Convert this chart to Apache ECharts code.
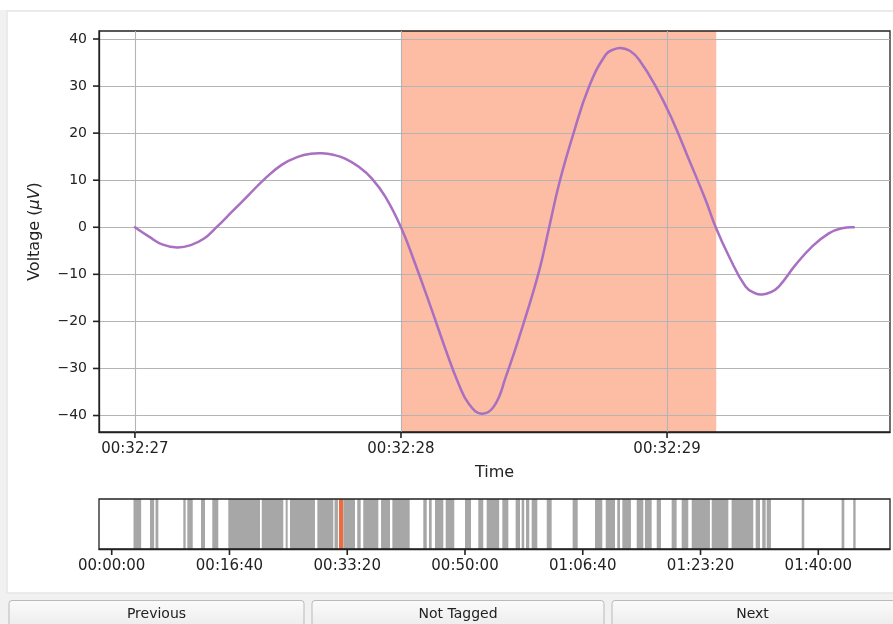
<!DOCTYPE html>
<html>
<head>
<meta charset="utf-8">
<script src="https://cdn.jsdelivr.net/npm/echarts@6/dist/echarts.min.js"></script>
<style>
html,body{margin:0;padding:0;background:#ffffff;}
#c{width:893px;height:624px;}
</style>
</head>
<body>
<div id="c"></div>
<script>
// ---- data: waveform (seconds after 00:32:27, microvolts) ----
const timeSec = [0, 0.053, 0.105, 0.159, 0.210, 0.260, 0.303, 0.365, 0.428, 0.490, 0.553, 0.615, 0.660, 0.703, 0.745, 0.790, 0.840, 0.890, 0.941, 1.0, 1.053, 1.116, 1.166, 1.216, 1.256, 1.303, 1.350, 1.394, 1.457, 1.520, 1.557, 1.595, 1.645, 1.707, 1.770, 1.800, 1.826, 1.860, 1.895, 1.958, 2.020, 2.083, 2.145, 2.183, 2.233, 2.295, 2.330, 2.358, 2.390, 2.420, 2.483, 2.545, 2.608, 2.658, 2.702];
const voltage = [0, -2.0, -3.7, -4.3, -3.8, -2.4, -0.2, 3.3, 6.9, 10.4, 13.3, 15.0, 15.6, 15.7, 15.4, 14.6, 12.9, 10.4, 6.5, 0, -7.7, -17.6, -25.7, -33.2, -37.6, -39.6, -38.0, -31.8, -21.1, -9.1, 0, 9.4, 19.3, 29.9, 36.7, 37.8, 38.1, 37.5, 35.6, 29.9, 22.8, 14.3, 5.8, 0, -6.2, -12.6, -14.0, -14.3, -13.8, -12.6, -8.0, -4.1, -1.3, -0.2, 0];
const taggedRegion = [1.0, 2.185];
const timeTickValues = [0, 1, 2];
const timeTickLabels = ['00:32:27', '00:32:28', '00:32:29'];
const voltTickValues = [-40, -30, -20, -10, 0, 10, 20, 30, 40];

// ---- data: overview of events (seconds from recording start) ----
const eventStart = [185, 325, 372, 608, 642, 758, 854, 990, 1274, 1477, 1514, 1746, 1892, 1966, 2085, 2136, 2287, 2383, 2646, 2694, 2745, 2836, 3000, 3113, 3184, 3317, 3430, 3481, 3518, 3566, 3694, 3914, 4104, 4195, 4293, 4336, 4458, 4528, 4628, 4755, 4840, 4925, 5095, 5264, 5468, 5524, 5562, 5859, 6198, 6297];
const eventEnd   = [250, 360, 396, 628, 688, 792, 905, 1259, 1457, 1494, 1726, 1882, 1921, 2066, 2114, 2264, 2363, 2530, 2675, 2717, 2816, 2909, 3051, 3155, 3290, 3368, 3467, 3503, 3546, 3614, 3736, 3957, 4166, 4274, 4316, 4409, 4514, 4585, 4664, 4797, 4896, 5080, 5236, 5448, 5505, 5553, 5598, 5881, 6221, 6317];
const currentEvent = [1947];
const overviewTickValues = [0, 1000, 2000, 3000, 4000, 5000, 6000];
const overviewTickLabels = ['00:00:00', '00:16:40', '00:33:20', '00:50:00', '01:06:40', '01:23:20', '01:40:00'];
const buttonLabels = ['Previous', 'Not Tagged', 'Next'];

// ---- axis ranges ----
const waveX = [-0.135, 2.838];
const waveY = [-43.5, 41.7];
const overviewX = [-108, 6609];

// ---- build ----
const FONT = 'DejaVu Sans';
const INK = '#222222';
const TICK = 6;
const wave = timeSec.map((t, i) => [t, voltage[i]]);
const bands = eventStart.map((s, i) => [s, eventEnd[i]]);

function labelFor(values, labels) {
  return v => {
    let best = -1, d = Infinity;
    values.forEach((x, i) => { const dd = Math.abs(x - v); if (dd < d) { d = dd; best = i; } });
    return best >= 0 && d < 1e-3 * (1 + Math.abs(v)) ? labels[best] : '';
  };
}

const chart = echarts.init(document.getElementById('c'), null, {renderer: 'canvas'});

const buttonX = [[9, 304], [312, 604], [612, 895]];
const graphics = [
  {type: 'rect', z: -100, shape: {x: 0, y: 0, width: 893, height: 624}, style: {fill: '#f1f1f1'}},
  {type: 'rect', z: -99, shape: {x: 0, y: 0, width: 893, height: 10}, style: {fill: '#ffffff'}},
  {type: 'rect', z: -98, shape: {x: 7, y: 11, width: 890, height: 582}, style: {fill: '#ffffff', stroke: '#e6e6e6', lineWidth: 1.5}}
];
buttonLabels.forEach((lab, i) => {
  const [x0, x1] = buttonX[i];
  graphics.push({
    type: 'rect', z: 50,
    shape: {x: x0, y: 600.5, width: x1 - x0, height: 32, r: 3},
    style: {
      fill: new echarts.graphic.LinearGradient(0, 0, 0, 1, [{offset: 0, color: '#fbfbfb'}, {offset: 1, color: '#e9e9e9'}]),
      stroke: '#b9b9b9', lineWidth: 1
    }
  });
  graphics.push({
    type: 'text', z: 51,
    x: (x0 + Math.min(x1, 893)) / 2, y: 614,
    style: {text: lab, fill: INK, font: '14px "' + FONT + '"', align: 'center', verticalAlign: 'middle'}
  });
});

function axisLineCfg() {
  return {show: true, onZero: false, lineStyle: {color: INK, width: 1.3}};
}
// outward tick marks, positioned through the axes' own scales
function xTickSeries(xIdx, yIdx, values, yAtAxis) {
  return {
    type: 'custom', xAxisIndex: xIdx, yAxisIndex: yIdx, z: 20, silent: true, clip: false,
    data: values.map(v => [v, yAtAxis]), encode: {x: 0, y: 1},
    renderItem: (params, api) => {
      const p = api.coord([api.value(0), api.value(1)]);
      return {type: 'rect', shape: {x: p[0] - 0.8, y: p[1], width: 1.6, height: TICK}, style: {fill: INK}};
    }
  };
}
function yTickSeries(xIdx, yIdx, values, xAtAxis) {
  return {
    type: 'custom', xAxisIndex: xIdx, yAxisIndex: yIdx, z: 20, silent: true, clip: false,
    data: values.map(v => [xAtAxis, v]), encode: {x: 0, y: 1},
    renderItem: (params, api) => {
      const p = api.coord([api.value(0), api.value(1)]);
      return {type: 'rect', shape: {x: p[0] - TICK, y: p[1] - 0.8, width: TICK, height: 1.6}, style: {fill: INK}};
    }
  };
}

const option = {
  animation: false,
  backgroundColor: 'transparent',
  textStyle: {fontFamily: FONT, color: INK},
  graphic: graphics,
  grid: [
    {left: 99, right: 3, top: 31, bottom: 192, show: true, z: 3, backgroundColor: 'transparent', borderColor: INK, borderWidth: 1.3},
    {left: 99, right: 3, top: 499, bottom: 75, show: true, z: 3, backgroundColor: 'transparent', borderColor: INK, borderWidth: 1.3}
  ],
  xAxis: [
    {
      type: 'value', gridIndex: 0, min: waveX[0], max: waveX[1], z: 4, position: 'bottom',
      name: 'Time', nameLocation: 'middle', nameGap: 33,
      nameTextStyle: {fontFamily: FONT, fontSize: 16, color: INK, verticalAlign: 'top'},
      axisLine: axisLineCfg(),
      axisTick: {show: false, customValues: timeTickValues},
      axisLabel: {customValues: timeTickValues, formatter: labelFor(timeTickValues, timeTickLabels), fontFamily: FONT, fontSize: 15, color: INK, margin: 10},
      splitLine: {show: true, lineStyle: {color: '#b4b4b4', width: 1.1}}
    },
    {
      type: 'value', gridIndex: 1, min: overviewX[0], max: overviewX[1], z: 4, position: 'bottom',
      axisLine: axisLineCfg(),
      axisTick: {show: false, customValues: overviewTickValues},
      axisLabel: {customValues: overviewTickValues, formatter: labelFor(overviewTickValues, overviewTickLabels), fontFamily: FONT, fontSize: 15, color: INK, margin: 10},
      splitLine: {show: false}
    }
  ],
  yAxis: [
    {
      type: 'value', gridIndex: 0, min: waveY[0], max: waveY[1], z: 4, position: 'left',
      name: '{a|Voltage (}{b|μV}{a|)}', nameLocation: 'middle', nameGap: 56, nameRotate: 90,
      nameTextStyle: {rich: {
        a: {fontFamily: FONT, fontSize: 16, color: INK},
        b: {fontFamily: FONT, fontSize: 16, color: INK, fontStyle: 'italic'}
      }},
      axisLine: axisLineCfg(),
      axisTick: {show: false, customValues: voltTickValues},
      axisLabel: {customValues: voltTickValues, formatter: v => (v < 0 ? '\u2212' + Math.abs(v) : String(v)), fontFamily: FONT, fontSize: 14, color: INK, margin: 12},
      splitLine: {show: true, lineStyle: {color: '#b4b4b4', width: 1.1}}
    },
    {
      type: 'value', gridIndex: 1, min: 0, max: 1, position: 'left',
      axisLine: {show: false, onZero: false}, axisTick: {show: false}, axisLabel: {show: false}, splitLine: {show: false}
    }
  ],
  series: [
    {
      // tagged region (shading) drawn beneath the grid lines
      type: 'line', xAxisIndex: 0, yAxisIndex: 0, z: 1, data: [],
      markArea: {
        silent: true, z: 1,
        itemStyle: {color: '#fdbca4', opacity: 1},
        data: [[{xAxis: taggedRegion[0]}, {xAxis: taggedRegion[1]}]]
      }
    },
    {
      // waveform: a smooth curve through every read point, placed via the axes
      type: 'custom', xAxisIndex: 0, yAxisIndex: 0, z: 5, clip: false,
      data: wave, encode: {x: 0, y: 1},
      renderItem: (params, api) => {
        if (params.dataIndex !== 0) return null;
        const pts = wave.map(p => api.coord(p));
        return {type: 'polyline', shape: {points: pts, smooth: 0.45},
          style: {fill: null, stroke: '#a96fc0', lineWidth: 2.5, lineJoin: 'round', lineCap: 'round'}};
      }
    },
    {
      type: 'custom', xAxisIndex: 1, yAxisIndex: 1, z: 2, clip: false,
      data: bands, encode: {x: [0, 1]},
      renderItem: (params, api) => {
        const p0 = api.coord([api.value(0), 1]);
        const p1 = api.coord([api.value(1), 0]);
        const w = Math.max(p1[0] - p0[0], 1.5);
        return {type: 'rect', shape: {x: p0[0], y: p0[1], width: w, height: p1[1] - p0[1]}, style: {fill: '#a7a7a7'}};
      }
    },
    {
      type: 'custom', xAxisIndex: 1, yAxisIndex: 1, z: 2.5, clip: false,
      data: currentEvent.map(v => [v]), encode: {x: 0},
      renderItem: (params, api) => {
        const p0 = api.coord([api.value(0), 1]);
        const p1 = api.coord([api.value(0), 0]);
        return {type: 'line', shape: {x1: p0[0], y1: p0[1], x2: p1[0], y2: p1[1]}, style: {stroke: '#f06a40', lineWidth: 4}};
      }
    },
    xTickSeries(0, 0, timeTickValues, waveY[0]),
    yTickSeries(0, 0, voltTickValues, waveX[0]),
    xTickSeries(1, 1, overviewTickValues, 0)
  ]
};
chart.setOption(option);
</script>
</body>
</html>
